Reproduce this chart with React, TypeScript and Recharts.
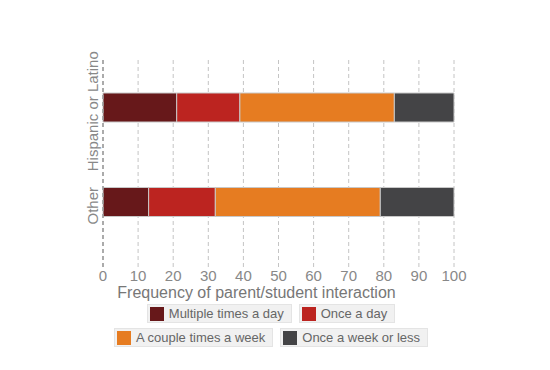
import React from 'react';
import { BarChart, Bar, XAxis, YAxis, CartesianGrid } from 'recharts';

const categories = ['Hispanic or Latino', 'Other'];
const multipleTimesADay = [21, 13];
const onceADay = [18, 19];
const coupleTimesAWeek = [44, 47];
const onceAWeekOrLess = [17, 21];
const xTicks = [0, 10, 20, 30, 40, 50, 60, 70, 80, 90, 100];

const series = [
  { key: 'multiple', name: 'Multiple times a day', color: '#67181a', values: multipleTimesADay },
  { key: 'once', name: 'Once a day', color: '#bc2420', values: onceADay },
  { key: 'couple', name: 'A couple times a week', color: '#e67c21', values: coupleTimesAWeek },
  { key: 'weekly', name: 'Once a week or less', color: '#444446', values: onceAWeekOrLess },
];

const data = categories.map((c, i) => {
  const row: Record<string, any> = { group: c };
  series.forEach((s) => (row[s.key] = s.values[i]));
  return row;
});

const FONT = '"Liberation Sans", Arial, Helvetica, sans-serif';

const YTick = (props: any) => {
  const { y, payload } = props;
  return (
    <text
      transform={`translate(98, ${y + 4}) rotate(-90)`}
      textAnchor="middle"
      fill="#888"
      fontSize={15}
      fontFamily={FONT}
    >
      {payload.value}
    </text>
  );
};

export default function App() {
  const rows = [series.slice(0, 2), series.slice(2, 4)];
  return (
    <div style={{ position: 'absolute', left: 0, top: 0, width: 550, height: 370, fontFamily: FONT }}>
      <BarChart
        width={550}
        height={370}
        data={data}
        layout="vertical"
        margin={{ top: 60, right: 96, left: 73, bottom: 70 }}
      >
        <CartesianGrid horizontal={false} vertical stroke="#c4c4c4" strokeDasharray="4 3" />
        <XAxis
          type="number"
          domain={[0, 100]}
          ticks={xTicks}
          axisLine={false}
          tickLine={false}
          tickSize={0}
          tickMargin={2}
          height={32}
          tick={{ fill: '#888', fontSize: 15, fontFamily: FONT }}
          label={{
            value: 'Frequency of parent/student interaction',
            position: 'insideBottom',
            offset: 2,
            dx: -22,
            fill: '#777',
            fontSize: 16,
            fontFamily: FONT,
          }}
        />
        <YAxis
          type="category"
          dataKey="group"
          width={30}
          padding={{ top: 0, bottom: 19 }}
          axisLine={{ stroke: '#999', strokeDasharray: '4 3', strokeWidth: 1.5 }}
          tickLine={false}
          tick={<YTick />}
        />
        {series.map((s) => (
          <Bar
            key={s.key}
            dataKey={s.key}
            name={s.name}
            stackId="a"
            fill={s.color}
            stroke="#c8c8c8"
            strokeWidth={1}
            barSize={29}
            isAnimationActive={false}
          />
        ))}
      </BarChart>
      <div style={{ position: 'absolute', left: 0, top: 304, width: 542 }}>
        {rows.map((row, ri) => (
          <div
            key={ri}
            style={{ display: 'flex', justifyContent: 'center', gap: 7, marginBottom: ri === 0 ? 5 : 0 }}
          >
            {row.map((s) => (
              <div
                key={s.key}
                style={{
                  display: 'flex',
                  alignItems: 'center',
                  height: 17,
                  padding: '0 7px 0 2px',
                  background: '#f1f1f1',
                  border: '1px solid #e4e4e4',
                  fontSize: 13,
                  color: '#666',
                  lineHeight: '17px',
                }}
              >
                <span
                  style={{ display: 'inline-block', width: 14, height: 14, background: s.color, marginRight: 5 }}
                />
                {s.name}
              </div>
            ))}
          </div>
        ))}
      </div>
    </div>
  );
}
